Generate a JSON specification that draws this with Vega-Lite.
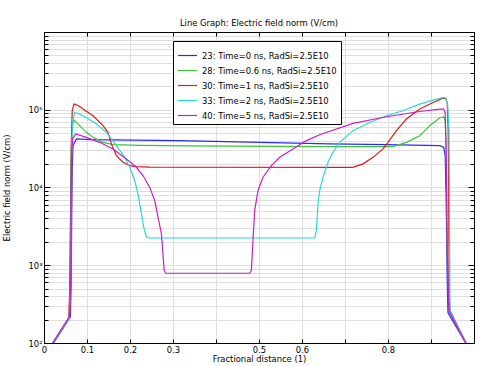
{
  "$schema": "https://vega.github.io/schema/vega-lite/v6.json",
  "width": 430,
  "height": 311,
  "autosize": "none",
  "padding": {"left": 44, "top": 32, "right": 5, "bottom": 23},
  "title": {"text": "Line Graph: Electric field norm (V/cm)", "fontSize": 8.4, "fontWeight": "normal", "font": "DejaVu Sans", "color": "black", "anchor": "middle", "offset": 1},
  "config": {
    "view": {"stroke": "black", "strokeWidth": 1},
    "font": "DejaVu Sans",
    "axis": {"domainColor": "black", "tickColor": "black", "labelColor": "black", "titleColor": "black", "labelFont": "DejaVu Sans", "titleFont": "DejaVu Sans", "labelFontSize": 8.4, "titleFontSize": 8.4, "titleFontWeight": "normal", "gridColor": "#dedede", "gridWidth": 1, "labelOverlap": false, "labelFlush": false}
  },
  "data": {"values": [
    {"series": "23: Time=0 ns, RadSi=2.5E10", "x": 0.0226, "y": 100},
    {"series": "23: Time=0 ns, RadSi=2.5E10", "x": 0.0614, "y": 217},
    {"series": "23: Time=0 ns, RadSi=2.5E10", "x": 0.0633, "y": 643},
    {"series": "23: Time=0 ns, RadSi=2.5E10", "x": 0.0644, "y": 3780},
    {"series": "23: Time=0 ns, RadSi=2.5E10", "x": 0.0656, "y": 16500},
    {"series": "23: Time=0 ns, RadSi=2.5E10", "x": 0.0674, "y": 34500},
    {"series": "23: Time=0 ns, RadSi=2.5E10", "x": 0.0753, "y": 42100},
    {"series": "23: Time=0 ns, RadSi=2.5E10", "x": 0.1063, "y": 41200},
    {"series": "23: Time=0 ns, RadSi=2.5E10", "x": 0.3156, "y": 40100},
    {"series": "23: Time=0 ns, RadSi=2.5E10", "x": 0.6644, "y": 36300},
    {"series": "23: Time=0 ns, RadSi=2.5E10", "x": 0.7963, "y": 35600},
    {"series": "23: Time=0 ns, RadSi=2.5E10", "x": 0.9202, "y": 34500},
    {"series": "23: Time=0 ns, RadSi=2.5E10", "x": 0.9295, "y": 32900},
    {"series": "23: Time=0 ns, RadSi=2.5E10", "x": 0.9330, "y": 25700},
    {"series": "23: Time=0 ns, RadSi=2.5E10", "x": 0.9353, "y": 6810},
    {"series": "23: Time=0 ns, RadSi=2.5E10", "x": 0.9377, "y": 643},
    {"series": "23: Time=0 ns, RadSi=2.5E10", "x": 0.9395, "y": 244},
    {"series": "23: Time=0 ns, RadSi=2.5E10", "x": 0.9807, "y": 100},

    {"series": "28: Time=0.6 ns, RadSi=2.5E10", "x": 0.0214, "y": 100},
    {"series": "28: Time=0.6 ns, RadSi=2.5E10", "x": 0.0586, "y": 209},
    {"series": "28: Time=0.6 ns, RadSi=2.5E10", "x": 0.0609, "y": 643},
    {"series": "28: Time=0.6 ns, RadSi=2.5E10", "x": 0.0621, "y": 6810},
    {"series": "28: Time=0.6 ns, RadSi=2.5E10", "x": 0.0633, "y": 29800},
    {"series": "28: Time=0.6 ns, RadSi=2.5E10", "x": 0.0656, "y": 62400},
    {"series": "28: Time=0.6 ns, RadSi=2.5E10", "x": 0.0698, "y": 73800},
    {"series": "28: Time=0.6 ns, RadSi=2.5E10", "x": 0.0830, "y": 62400},
    {"series": "28: Time=0.6 ns, RadSi=2.5E10", "x": 0.0986, "y": 51200},
    {"series": "28: Time=0.6 ns, RadSi=2.5E10", "x": 0.1140, "y": 44200},
    {"series": "28: Time=0.6 ns, RadSi=2.5E10", "x": 0.1372, "y": 38100},
    {"series": "28: Time=0.6 ns, RadSi=2.5E10", "x": 0.1605, "y": 35600},
    {"series": "28: Time=0.6 ns, RadSi=2.5E10", "x": 0.2226, "y": 34800},
    {"series": "28: Time=0.6 ns, RadSi=2.5E10", "x": 0.3388, "y": 34300},
    {"series": "28: Time=0.6 ns, RadSi=2.5E10", "x": 0.6644, "y": 33600},
    {"series": "28: Time=0.6 ns, RadSi=2.5E10", "x": 0.8116, "y": 33600},
    {"series": "28: Time=0.6 ns, RadSi=2.5E10", "x": 0.8428, "y": 38100},
    {"series": "28: Time=0.6 ns, RadSi=2.5E10", "x": 0.8737, "y": 46400},
    {"series": "28: Time=0.6 ns, RadSi=2.5E10", "x": 0.8970, "y": 62400},
    {"series": "28: Time=0.6 ns, RadSi=2.5E10", "x": 0.9202, "y": 78300},
    {"series": "28: Time=0.6 ns, RadSi=2.5E10", "x": 0.9295, "y": 81300},
    {"series": "28: Time=0.6 ns, RadSi=2.5E10", "x": 0.9330, "y": 72300},
    {"series": "28: Time=0.6 ns, RadSi=2.5E10", "x": 0.9353, "y": 29800},
    {"series": "28: Time=0.6 ns, RadSi=2.5E10", "x": 0.9377, "y": 1555},
    {"series": "28: Time=0.6 ns, RadSi=2.5E10", "x": 0.9423, "y": 257},
    {"series": "28: Time=0.6 ns, RadSi=2.5E10", "x": 0.9807, "y": 100},

    {"series": "30: Time=1 ns, RadSi=2.5E10", "x": 0.0202, "y": 100},
    {"series": "30: Time=1 ns, RadSi=2.5E10", "x": 0.0574, "y": 209},
    {"series": "30: Time=1 ns, RadSi=2.5E10", "x": 0.0598, "y": 478},
    {"series": "30: Time=1 ns, RadSi=2.5E10", "x": 0.0621, "y": 6810},
    {"series": "30: Time=1 ns, RadSi=2.5E10", "x": 0.0637, "y": 40100},
    {"series": "30: Time=1 ns, RadSi=2.5E10", "x": 0.0656, "y": 97000},
    {"series": "30: Time=1 ns, RadSi=2.5E10", "x": 0.0698, "y": 118300},
    {"series": "30: Time=1 ns, RadSi=2.5E10", "x": 0.0784, "y": 114300},
    {"series": "30: Time=1 ns, RadSi=2.5E10", "x": 0.0907, "y": 102100},
    {"series": "30: Time=1 ns, RadSi=2.5E10", "x": 0.1140, "y": 83800},
    {"series": "30: Time=1 ns, RadSi=2.5E10", "x": 0.1372, "y": 62400},
    {"series": "30: Time=1 ns, RadSi=2.5E10", "x": 0.1488, "y": 51200},
    {"series": "30: Time=1 ns, RadSi=2.5E10", "x": 0.1567, "y": 36300},
    {"series": "30: Time=1 ns, RadSi=2.5E10", "x": 0.1684, "y": 25700},
    {"series": "30: Time=1 ns, RadSi=2.5E10", "x": 0.1837, "y": 21100},
    {"series": "30: Time=1 ns, RadSi=2.5E10", "x": 0.1993, "y": 19140},
    {"series": "30: Time=1 ns, RadSi=2.5E10", "x": 0.2149, "y": 18580},
    {"series": "30: Time=1 ns, RadSi=2.5E10", "x": 0.2458, "y": 18320},
    {"series": "30: Time=1 ns, RadSi=2.5E10", "x": 0.7179, "y": 18200},
    {"series": "30: Time=1 ns, RadSi=2.5E10", "x": 0.7419, "y": 20130},
    {"series": "30: Time=1 ns, RadSi=2.5E10", "x": 0.7651, "y": 24430},
    {"series": "30: Time=1 ns, RadSi=2.5E10", "x": 0.7884, "y": 31330},
    {"series": "30: Time=1 ns, RadSi=2.5E10", "x": 0.8000, "y": 38100},
    {"series": "30: Time=1 ns, RadSi=2.5E10", "x": 0.8195, "y": 53850},
    {"series": "30: Time=1 ns, RadSi=2.5E10", "x": 0.8428, "y": 76000},
    {"series": "30: Time=1 ns, RadSi=2.5E10", "x": 0.8737, "y": 102100},
    {"series": "30: Time=1 ns, RadSi=2.5E10", "x": 0.9047, "y": 124100},
    {"series": "30: Time=1 ns, RadSi=2.5E10", "x": 0.9279, "y": 141300},
    {"series": "30: Time=1 ns, RadSi=2.5E10", "x": 0.9342, "y": 140400},
    {"series": "30: Time=1 ns, RadSi=2.5E10", "x": 0.9377, "y": 123000},
    {"series": "30: Time=1 ns, RadSi=2.5E10", "x": 0.9400, "y": 53850},
    {"series": "30: Time=1 ns, RadSi=2.5E10", "x": 0.9412, "y": 6810},
    {"series": "30: Time=1 ns, RadSi=2.5E10", "x": 0.9423, "y": 356},
    {"series": "30: Time=1 ns, RadSi=2.5E10", "x": 0.9447, "y": 257},
    {"series": "30: Time=1 ns, RadSi=2.5E10", "x": 0.9819, "y": 100},

    {"series": "33: Time=2 ns, RadSi=2.5E10", "x": 0.0214, "y": 100},
    {"series": "33: Time=2 ns, RadSi=2.5E10", "x": 0.0586, "y": 209},
    {"series": "33: Time=2 ns, RadSi=2.5E10", "x": 0.0621, "y": 643},
    {"series": "33: Time=2 ns, RadSi=2.5E10", "x": 0.0633, "y": 6810},
    {"series": "33: Time=2 ns, RadSi=2.5E10", "x": 0.0644, "y": 29800},
    {"series": "33: Time=2 ns, RadSi=2.5E10", "x": 0.0667, "y": 72300},
    {"series": "33: Time=2 ns, RadSi=2.5E10", "x": 0.0714, "y": 92300},
    {"series": "33: Time=2 ns, RadSi=2.5E10", "x": 0.0807, "y": 88900},
    {"series": "33: Time=2 ns, RadSi=2.5E10", "x": 0.0986, "y": 79600},
    {"series": "33: Time=2 ns, RadSi=2.5E10", "x": 0.1219, "y": 65600},
    {"series": "33: Time=2 ns, RadSi=2.5E10", "x": 0.1451, "y": 51200},
    {"series": "33: Time=2 ns, RadSi=2.5E10", "x": 0.1684, "y": 34500},
    {"series": "33: Time=2 ns, RadSi=2.5E10", "x": 0.1877, "y": 24430},
    {"series": "33: Time=2 ns, RadSi=2.5E10", "x": 0.1993, "y": 18200},
    {"series": "33: Time=2 ns, RadSi=2.5E10", "x": 0.2109, "y": 12300},
    {"series": "33: Time=2 ns, RadSi=2.5E10", "x": 0.2186, "y": 8300},
    {"series": "33: Time=2 ns, RadSi=2.5E10", "x": 0.2265, "y": 4600},
    {"series": "33: Time=2 ns, RadSi=2.5E10", "x": 0.2319, "y": 3100},
    {"series": "33: Time=2 ns, RadSi=2.5E10", "x": 0.2381, "y": 2310},
    {"series": "33: Time=2 ns, RadSi=2.5E10", "x": 0.2458, "y": 2240},
    {"series": "33: Time=2 ns, RadSi=2.5E10", "x": 0.6295, "y": 2240},
    {"series": "33: Time=2 ns, RadSi=2.5E10", "x": 0.6335, "y": 2810},
    {"series": "33: Time=2 ns, RadSi=2.5E10", "x": 0.6372, "y": 6180},
    {"series": "33: Time=2 ns, RadSi=2.5E10", "x": 0.6412, "y": 9160},
    {"series": "33: Time=2 ns, RadSi=2.5E10", "x": 0.6488, "y": 13550},
    {"series": "33: Time=2 ns, RadSi=2.5E10", "x": 0.6605, "y": 21100},
    {"series": "33: Time=2 ns, RadSi=2.5E10", "x": 0.6721, "y": 28400},
    {"series": "33: Time=2 ns, RadSi=2.5E10", "x": 0.6877, "y": 38100},
    {"series": "33: Time=2 ns, RadSi=2.5E10", "x": 0.7186, "y": 53850},
    {"series": "33: Time=2 ns, RadSi=2.5E10", "x": 0.7574, "y": 68700},
    {"series": "33: Time=2 ns, RadSi=2.5E10", "x": 0.7963, "y": 83800},
    {"series": "33: Time=2 ns, RadSi=2.5E10", "x": 0.8349, "y": 97000},
    {"series": "33: Time=2 ns, RadSi=2.5E10", "x": 0.8737, "y": 118300},
    {"series": "33: Time=2 ns, RadSi=2.5E10", "x": 0.9047, "y": 133000},
    {"series": "33: Time=2 ns, RadSi=2.5E10", "x": 0.9279, "y": 143800},
    {"series": "33: Time=2 ns, RadSi=2.5E10", "x": 0.9342, "y": 142600},
    {"series": "33: Time=2 ns, RadSi=2.5E10", "x": 0.9388, "y": 115900},
    {"series": "33: Time=2 ns, RadSi=2.5E10", "x": 0.9419, "y": 53850},
    {"series": "33: Time=2 ns, RadSi=2.5E10", "x": 0.9430, "y": 6810},
    {"series": "33: Time=2 ns, RadSi=2.5E10", "x": 0.9440, "y": 356},
    {"series": "33: Time=2 ns, RadSi=2.5E10", "x": 0.9447, "y": 250},
    {"series": "33: Time=2 ns, RadSi=2.5E10", "x": 0.9819, "y": 100},

    {"series": "40: Time=5 ns, RadSi=2.5E10", "x": 0.0202, "y": 100},
    {"series": "40: Time=5 ns, RadSi=2.5E10", "x": 0.0598, "y": 222},
    {"series": "40: Time=5 ns, RadSi=2.5E10", "x": 0.0621, "y": 643},
    {"series": "40: Time=5 ns, RadSi=2.5E10", "x": 0.0633, "y": 6810},
    {"series": "40: Time=5 ns, RadSi=2.5E10", "x": 0.0644, "y": 29800},
    {"series": "40: Time=5 ns, RadSi=2.5E10", "x": 0.0667, "y": 42500},
    {"series": "40: Time=5 ns, RadSi=2.5E10", "x": 0.0737, "y": 48800},
    {"series": "40: Time=5 ns, RadSi=2.5E10", "x": 0.0986, "y": 44200},
    {"series": "40: Time=5 ns, RadSi=2.5E10", "x": 0.1295, "y": 38100},
    {"series": "40: Time=5 ns, RadSi=2.5E10", "x": 0.1605, "y": 31330},
    {"series": "40: Time=5 ns, RadSi=2.5E10", "x": 0.1916, "y": 23300},
    {"series": "40: Time=5 ns, RadSi=2.5E10", "x": 0.2149, "y": 18200},
    {"series": "40: Time=5 ns, RadSi=2.5E10", "x": 0.2302, "y": 14260},
    {"series": "40: Time=5 ns, RadSi=2.5E10", "x": 0.2458, "y": 10100},
    {"series": "40: Time=5 ns, RadSi=2.5E10", "x": 0.2574, "y": 6810},
    {"series": "40: Time=5 ns, RadSi=2.5E10", "x": 0.2651, "y": 4160},
    {"series": "40: Time=5 ns, RadSi=2.5E10", "x": 0.2730, "y": 2550},
    {"series": "40: Time=5 ns, RadSi=2.5E10", "x": 0.2772, "y": 1277},
    {"series": "40: Time=5 ns, RadSi=2.5E10", "x": 0.2795, "y": 863},
    {"series": "40: Time=5 ns, RadSi=2.5E10", "x": 0.2830, "y": 789},
    {"series": "40: Time=5 ns, RadSi=2.5E10", "x": 0.4784, "y": 789},
    {"series": "40: Time=5 ns, RadSi=2.5E10", "x": 0.4823, "y": 863},
    {"series": "40: Time=5 ns, RadSi=2.5E10", "x": 0.4860, "y": 2094},
    {"series": "40: Time=5 ns, RadSi=2.5E10", "x": 0.4900, "y": 5070},
    {"series": "40: Time=5 ns, RadSi=2.5E10", "x": 0.4977, "y": 9160},
    {"series": "40: Time=5 ns, RadSi=2.5E10", "x": 0.5093, "y": 13550},
    {"series": "40: Time=5 ns, RadSi=2.5E10", "x": 0.5288, "y": 19140},
    {"series": "40: Time=5 ns, RadSi=2.5E10", "x": 0.5481, "y": 24430},
    {"series": "40: Time=5 ns, RadSi=2.5E10", "x": 0.5791, "y": 31330},
    {"series": "40: Time=5 ns, RadSi=2.5E10", "x": 0.6102, "y": 40100},
    {"series": "40: Time=5 ns, RadSi=2.5E10", "x": 0.6412, "y": 47760},
    {"series": "40: Time=5 ns, RadSi=2.5E10", "x": 0.7186, "y": 66700},
    {"series": "40: Time=5 ns, RadSi=2.5E10", "x": 0.7963, "y": 81300},
    {"series": "40: Time=5 ns, RadSi=2.5E10", "x": 0.8737, "y": 95000},
    {"series": "40: Time=5 ns, RadSi=2.5E10", "x": 0.9202, "y": 102100},
    {"series": "40: Time=5 ns, RadSi=2.5E10", "x": 0.9295, "y": 102100},
    {"series": "40: Time=5 ns, RadSi=2.5E10", "x": 0.9330, "y": 91600},
    {"series": "40: Time=5 ns, RadSi=2.5E10", "x": 0.9353, "y": 29800},
    {"series": "40: Time=5 ns, RadSi=2.5E10", "x": 0.9377, "y": 1555},
    {"series": "40: Time=5 ns, RadSi=2.5E10", "x": 0.9412, "y": 257},
    {"series": "40: Time=5 ns, RadSi=2.5E10", "x": 0.9807, "y": 100}
  ]},
  "resolve": {"axis": {"x": "independent", "y": "independent"}},
  "layer": [
    {
      "mark": {"type": "line", "strokeWidth": 1.2, "clip": true},
      "encoding": {
        "x": {"field": "x", "type": "quantitative", "scale": {"domain": [0, 1], "nice": false},
          "axis": {"orient": "bottom", "title": "Fractional distance (1)", "titlePadding": 1,
            "values": [0, 0.1, 0.2, 0.3, 0.4, 0.5, 0.6, 0.7, 0.8, 0.9, 1],
            "labelExpr": "(datum.value == 0.4 || datum.value == 0.7 || datum.value == 0.9 || datum.value == 1) ? '' : format(datum.value, '~g')",
            "tickSize": -4, "labelPadding": 6.5, "grid": true}},
        "y": {"field": "y", "type": "quantitative", "scale": {"type": "log", "domain": [100, 1000000], "nice": false},
          "axis": {"orient": "left", "title": "Electric field norm (V/cm)", "titlePadding": 16,
            "values": [100, 200, 300, 400, 500, 600, 700, 800, 900, 1000, 2000, 3000, 4000, 5000, 6000, 7000, 8000, 9000, 10000, 20000, 30000, 40000, 50000, 60000, 70000, 80000, 90000, 100000, 200000, 300000, 400000, 500000, 600000, 700000, 800000, 900000, 1000000],
            "labelExpr": "datum.value == 100 ? '10²' : datum.value == 1000 ? '10³' : datum.value == 10000 ? '10⁴' : datum.value == 100000 ? '10⁵' : ''",
            "tickSize": {"condition": {"test": "datum.value == 100 || datum.value == 1000 || datum.value == 10000 || datum.value == 100000 || datum.value == 1000000", "value": -6}, "value": -4},
            "labelPadding": 8, "grid": true}},
        "color": {"field": "series", "type": "nominal",
          "scale": {"domain": ["23: Time=0 ns, RadSi=2.5E10", "28: Time=0.6 ns, RadSi=2.5E10", "30: Time=1 ns, RadSi=2.5E10", "33: Time=2 ns, RadSi=2.5E10", "40: Time=5 ns, RadSi=2.5E10"],
            "range": ["#2a2aff", "#3cc43c", "#e01a1a", "#2ad8d8", "#c81ec8"]},
          "legend": {"orient": "none", "legendX": 129, "legendY": 9, "title": null, "symbolType": "stroke", "symbolSize": 361, "symbolStrokeWidth": 1.2, "labelFontSize": 8.4, "labelFont": "DejaVu Sans", "labelColor": "black", "strokeColor": "black", "fillColor": "white", "padding": 4, "labelOffset": 4, "labelLimit": 300, "rowPadding": -5.8}}
      }
    },
    {
      "mark": {"type": "line", "opacity": 0},
      "encoding": {
        "x": {"field": "x", "type": "quantitative",
          "axis": {"orient": "top", "title": null, "labels": false, "grid": false, "tickSize": -4,
            "values": [0, 0.1, 0.2, 0.3, 0.4, 0.5, 0.6, 0.7, 0.8, 0.9, 1]}},
        "y": {"field": "y", "type": "quantitative",
          "axis": {"orient": "right", "title": null, "labels": false, "grid": false,
            "values": [100, 200, 300, 400, 500, 600, 700, 800, 900, 1000, 2000, 3000, 4000, 5000, 6000, 7000, 8000, 9000, 10000, 20000, 30000, 40000, 50000, 60000, 70000, 80000, 90000, 100000, 200000, 300000, 400000, 500000, 600000, 700000, 800000, 900000, 1000000],
            "tickSize": {"condition": {"test": "datum.value == 100 || datum.value == 1000 || datum.value == 10000 || datum.value == 100000 || datum.value == 1000000", "value": -6}, "value": -4}}},
        "detail": {"field": "series", "type": "nominal"}
      }
    }
  ]
}
